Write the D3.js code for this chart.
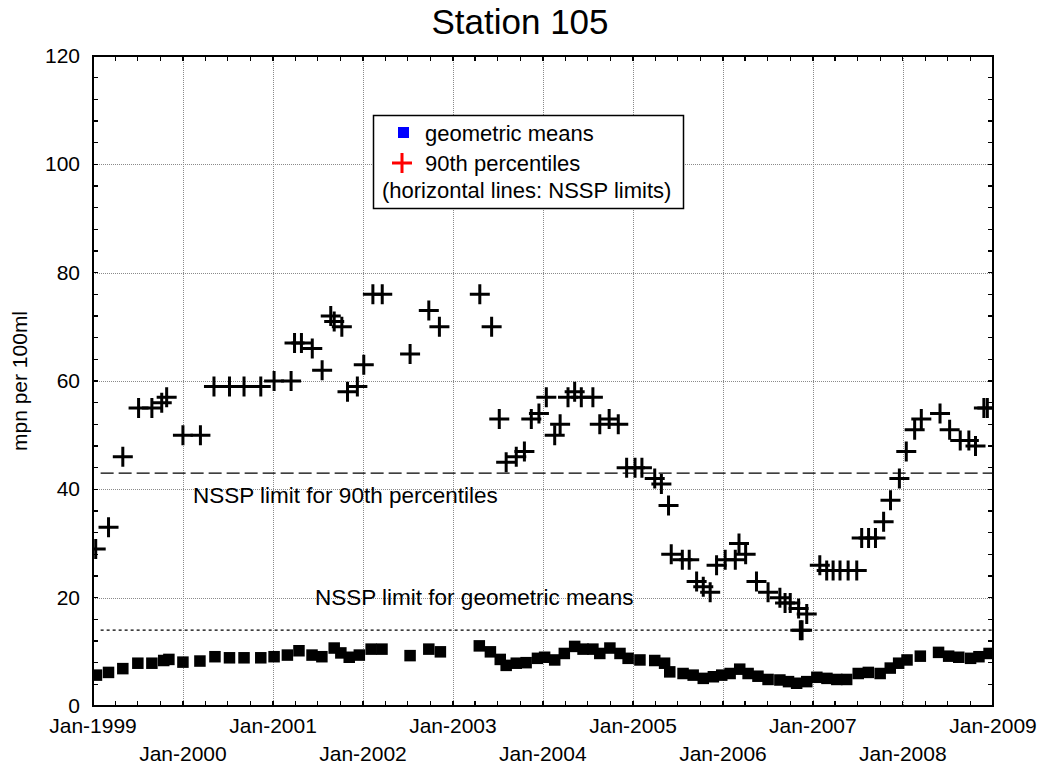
<!DOCTYPE html>
<html>
<head>
<meta charset="utf-8">
<script src="https://cdn.jsdelivr.net/npm/d3@7/dist/d3.min.js"></script>
<style>
  html, body { margin: 0; padding: 0; background: #fff; }
  svg { display: block; font-family: "Liberation Sans", Arial, sans-serif; }
</style>
</head>
<body>
<svg id="chart" width="1046" height="773"></svg>
<script>
// Monthly-window statistics for Station 105 (mpn per 100ml)
const gmDates = ["1999-01-15","1999-03-05","1999-05-02","1999-07-02","1999-08-28","1999-10-15","1999-11-05",
  "2000-01-01","2000-03-10","2000-05-10","2000-07-08","2000-09-05","2000-11-12",
  "2001-01-05","2001-02-28","2001-04-16","2001-06-08","2001-07-18","2001-09-06","2001-10-03","2001-11-06","2001-12-17",
  "2002-02-03","2002-03-19","2002-07-11","2002-09-25","2002-11-11",
  "2003-04-18","2003-06-02","2003-07-12","2003-08-05","2003-09-15","2003-10-25","2003-12-10",
  "2004-01-08","2004-02-18","2004-03-28","2004-05-09","2004-06-12","2004-07-22","2004-08-19","2004-09-29","2004-11-09","2004-12-12",
  "2005-01-29","2005-03-30","2005-05-09","2005-05-30","2005-07-23","2005-09-02","2005-10-13","2005-11-23","2005-12-27",
  "2006-01-30","2006-03-10","2006-04-13","2006-05-23","2006-07-03","2006-08-20","2006-09-24","2006-10-27","2006-12-07",
  "2007-01-17","2007-02-27","2007-04-08","2007-05-18","2007-07-04","2007-08-14","2007-10-01","2007-11-11","2007-12-15",
  "2008-01-18","2008-03-12","2008-05-25","2008-07-05","2008-08-15","2008-10-02","2008-11-05","2008-12-16"];
const gmValues = [5.7,6.2,6.9,7.9,7.9,8.4,8.6,
  8.1,8.3,9.1,8.9,8.9,8.9,
  9.1,9.4,10.2,9.4,9.1,10.7,9.8,9.0,9.4,
  10.5,10.5,9.3,10.5,10.0,
  11.1,10.0,8.6,7.5,7.9,8.0,8.8,
  9.0,8.5,9.7,11.0,10.5,10.5,9.7,10.7,9.7,8.8,
  8.5,8.4,7.9,6.3,6.0,5.7,5.1,5.4,5.7,
  6.0,6.8,6.0,5.5,4.9,4.8,4.5,4.2,4.5,
  5.3,5.1,4.9,4.9,6.0,6.2,6.0,7.0,7.9,
  8.5,9.2,9.9,9.2,9.0,8.8,9.1,9.7];

const p90Dates = ["1999-01-12","1999-03-05","1999-05-02","1999-07-05","1999-08-28","1999-10-07","1999-10-27",
  "2000-01-01","2000-03-12","2000-05-06","2000-07-08","2000-09-05","2000-11-12",
  "2001-01-05","2001-03-15","2001-03-29","2001-04-26","2001-06-09","2001-07-19","2001-08-23","2001-09-06","2001-10-07","2001-10-30","2001-12-09",
  "2002-01-04","2002-02-10","2002-03-20","2002-07-11","2002-09-25","2002-11-07",
  "2003-04-20","2003-06-07","2003-07-08","2003-08-05","2003-09-15","2003-10-18","2003-11-15","2003-12-16",
  "2004-01-15","2004-02-18","2004-03-11","2004-04-12","2004-05-09","2004-06-05","2004-07-22","2004-08-19","2004-09-26","2004-11-02","2004-12-06",
  "2005-01-09","2005-02-06","2005-03-30","2005-04-26","2005-05-25","2005-06-05","2005-07-20","2005-08-17","2005-09-16","2005-10-13","2005-11-10","2005-12-06",
  "2006-01-10","2006-02-20","2006-03-07","2006-04-03","2006-05-17","2006-07-03","2006-08-20","2006-09-10","2006-10-01","2006-11-04","2006-11-11","2006-11-18","2006-12-07",
  "2007-01-29","2007-02-26","2007-03-24","2007-04-21","2007-05-24","2007-06-28","2007-07-18","2007-08-15","2007-09-12","2007-10-15","2007-11-12","2007-12-18",
  "2008-01-15","2008-02-18","2008-03-16","2008-05-31","2008-07-09","2008-08-21","2008-09-25","2008-10-22","2008-11-25","2008-12-09"];
const p90Values = [29,33,46,55,55,56,57,
  50,50,59,59,59,59,
  60,60,67,67,66,62,72,71,70,58,59,
  63,76,76,65,73,70,
  76,70,53,45,46,47,53,54,
  57,50,52,57,58,57,57,52,53,52,44,
  44,44,42,41,37,28,27,27,23,22,21,26,
  27,27,30,28,23,21,20,19,19,18,14,14,17,
  26,25,25,25,25,25,31,31,31,34,38,42,
  47,51,53,54,51,49,49,48,55,55];

// NSSP limits
const limitNames = ["NSSP limit for 90th percentiles", "NSSP limit for geometric means"];
const limitValues = [43, 14];

const yTicks = [0, 20, 40, 60, 80, 100, 120];
const xTickYears = [1999, 2000, 2001, 2002, 2003, 2004, 2005, 2006, 2007, 2008, 2009];
const legendLabels = ["geometric means", "90th percentiles", "(horizontal lines: NSSP limits)"];
const titleText = "Station 105";
const yAxisTitle = "mpn per 100ml";

const parse = d3.timeParse("%Y-%m-%d");
const gm = gmDates.map((d, i) => ({ date: parse(d), value: gmValues[i] }));
const p90 = p90Dates.map((d, i) => ({ date: parse(d), value: p90Values[i] }));

const m = { left: 93, right: 993, top: 56, bottom: 706 };
const svg = d3.select("#chart");

const x = d3.scaleTime()
  .domain([new Date(1999, 0, 1), new Date(2009, 0, 1)])
  .range([m.left, m.right]);
const y = d3.scaleLinear().domain([0, 120]).range([m.bottom, m.top]);

const fmt = d3.timeFormat("%b-%Y");

// grid lines
const grid = svg.append("g").attr("stroke", "#8a8a8a").attr("stroke-width", 1)
  .attr("stroke-dasharray", "1,1").attr("shape-rendering", "crispEdges");
grid.selectAll("line.gx")
  .data(xTickYears.slice(1, -1).map(yr => new Date(yr, 0, 1)))
  .join("line")
  .attr("x1", d => Math.round(x(d)) + 0.5).attr("x2", d => Math.round(x(d)) + 0.5)
  .attr("y1", m.top).attr("y2", m.bottom);
grid.selectAll("line.gy")
  .data(yTicks.slice(1, -1))
  .join("line")
  .attr("x1", m.left).attr("x2", m.right)
  .attr("y1", d => Math.round(y(d)) + 0.5).attr("y2", d => Math.round(y(d)) + 0.5);

// NSSP limit lines
svg.append("line")
  .attr("x1", x(new Date(1999, 1, 1))).attr("x2", m.right)
  .attr("y1", y(limitValues[0])).attr("y2", y(limitValues[0]))
  .attr("stroke", "#000").attr("stroke-width", 1.3).attr("stroke-dasharray", "13,5");
svg.append("line")
  .attr("x1", x(new Date(1999, 1, 1))).attr("x2", m.right)
  .attr("y1", y(limitValues[1])).attr("y2", y(limitValues[1]))
  .attr("stroke", "#000").attr("stroke-width", 1.3).attr("stroke-dasharray", "3,3");

// limit labels
svg.append("text")
  .attr("x", 193).attr("y", y(limitValues[0]) + 30)
  .attr("font-size", 22.5).attr("fill", "#000")
  .text(limitNames[0]);
svg.append("text")
  .attr("x", 315).attr("y", y(limitValues[1]) - 25)
  .attr("font-size", 22.5).attr("fill", "#000")
  .text(limitNames[1]);

// clip for markers
svg.append("clipPath").attr("id", "plotClip")
  .append("rect").attr("x", m.left).attr("y", m.top)
  .attr("width", m.right - m.left).attr("height", m.bottom - m.top);

const marks = svg.append("g").attr("clip-path", "url(#plotClip)");

// geometric means: filled squares
const sq = 11.5;
marks.append("g").selectAll("rect")
  .data(gm)
  .join("rect")
  .attr("x", d => x(d.date) - sq / 2)
  .attr("y", d => y(d.value) - sq / 2)
  .attr("width", sq).attr("height", sq)
  .attr("fill", "#000");

// 90th percentiles: plus signs
const ps = 10;
marks.append("g").selectAll("path")
  .data(p90)
  .join("path")
  .attr("d", d => {
    const cx = x(d.date), cy = y(d.value);
    return `M${cx - ps},${cy}H${cx + ps}M${cx},${cy - ps}V${cy + ps}`;
  })
  .attr("stroke", "#000").attr("stroke-width", 3).attr("fill", "none");

// frame and ticks
const axisG = svg.append("g").attr("stroke", "#000").attr("shape-rendering", "crispEdges");
axisG.append("rect")
  .attr("x", m.left).attr("y", m.top)
  .attr("width", m.right - m.left).attr("height", m.bottom - m.top)
  .attr("fill", "none").attr("stroke-width", 1.6);

const tl = 5;
const quarterTicks = d3.timeMonth.every(3).range(new Date(1999, 0, 1), new Date(2009, 0, 2));
axisG.selectAll("line.tx")
  .data(quarterTicks)
  .join("line")
  .attr("x1", d => x(d)).attr("x2", d => x(d))
  .attr("y1", m.bottom).attr("y2", m.bottom - tl).attr("stroke-width", 1.3);
axisG.selectAll("line.txt")
  .data(quarterTicks)
  .join("line")
  .attr("x1", d => x(d)).attr("x2", d => x(d))
  .attr("y1", m.top).attr("y2", m.top + tl).attr("stroke-width", 1.3);
const yMinor = d3.range(0, 121, 4);
axisG.selectAll("line.ty")
  .data(yMinor)
  .join("line")
  .attr("x1", m.left).attr("x2", m.left + tl)
  .attr("y1", d => y(d)).attr("y2", d => y(d)).attr("stroke-width", 1.3);
axisG.selectAll("line.tyr")
  .data(yMinor)
  .join("line")
  .attr("x1", m.right).attr("x2", m.right - tl)
  .attr("y1", d => y(d)).attr("y2", d => y(d)).attr("stroke-width", 1.3);

// tick labels
svg.append("g").selectAll("text")
  .data(yTicks)
  .join("text")
  .attr("x", m.left - 13).attr("y", d => y(d) + 7)
  .attr("text-anchor", "end").attr("font-size", 21)
  .text(d => d);

svg.append("g").selectAll("text")
  .data(xTickYears)
  .join("text")
  .attr("x", yr => x(new Date(yr, 0, 1)))
  .attr("y", (yr, i) => i % 2 === 0 ? 733 : 761)
  .attr("text-anchor", "middle").attr("font-size", 21)
  .text(yr => fmt(new Date(yr, 0, 1)));

// axis title
svg.append("text")
  .attr("transform", `translate(27,${(m.top + m.bottom) / 2}) rotate(-90)`)
  .attr("text-anchor", "middle").attr("font-size", 21)
  .text(yAxisTitle);

// chart title
svg.append("text")
  .attr("x", 520).attr("y", 34)
  .attr("text-anchor", "middle").attr("font-size", 35)
  .text(titleText);

// legend
const lg = svg.append("g");
lg.append("rect")
  .attr("x", 373.5).attr("y", 115.5).attr("width", 310).attr("height", 93)
  .attr("fill", "#fff").attr("stroke", "#000").attr("stroke-width", 1.5);
lg.append("rect")
  .attr("x", 398).attr("y", 127).attr("width", 11).attr("height", 11)
  .attr("fill", "#0000ff");
lg.append("path")
  .attr("d", "M392,163H412M402,153V173")
  .attr("stroke", "#ff0000").attr("stroke-width", 3);
lg.append("text").attr("x", 425).attr("y", 141).attr("font-size", 22).text(legendLabels[0]);
lg.append("text").attr("x", 425).attr("y", 171).attr("font-size", 22).text(legendLabels[1]);
lg.append("text").attr("x", 382).attr("y", 198).attr("font-size", 22).text(legendLabels[2]);
</script>
</body>
</html>
